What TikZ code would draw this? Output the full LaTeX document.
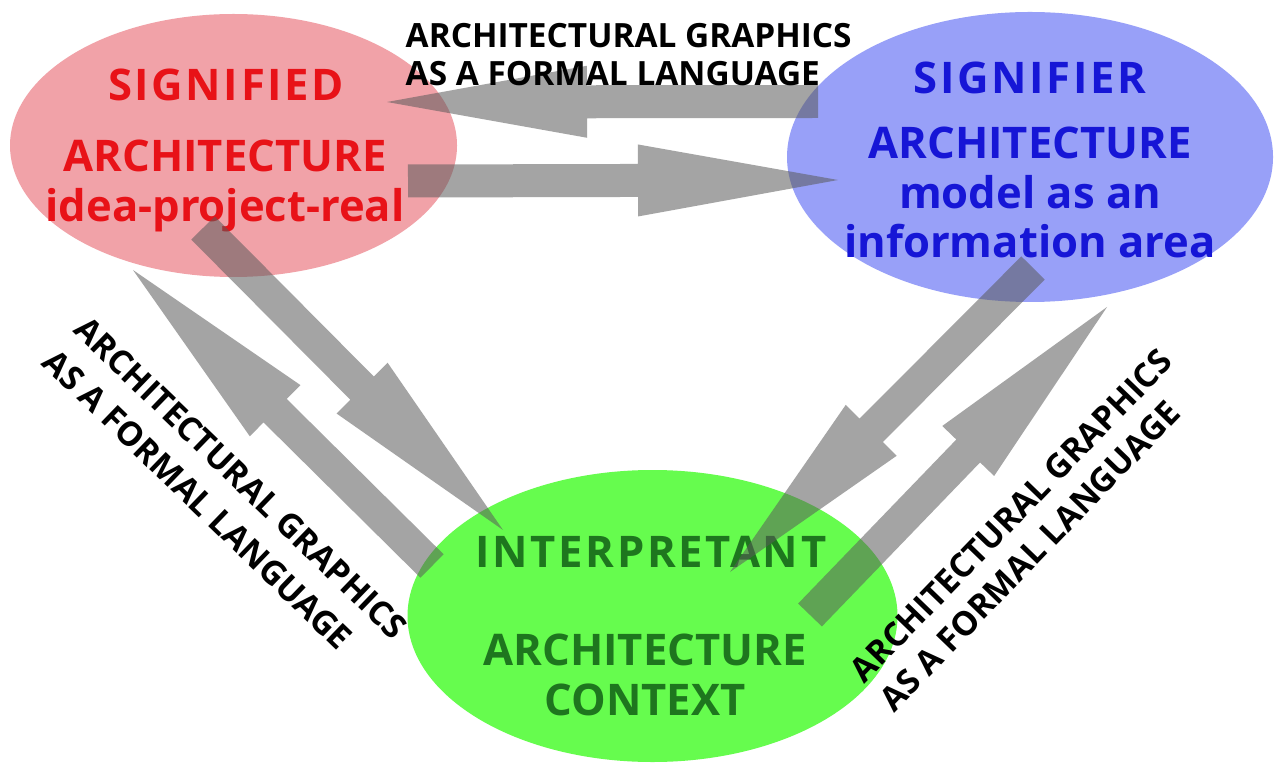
\documentclass[tikz,border=0pt]{standalone}
\usepackage{fontspec}
\setmainfont{Open Sans}
\usepackage{tikz}
\usetikzlibrary{calc,shapes.geometric}
\definecolor{sigred}{RGB}{232,18,24}
\definecolor{sigredfill}{RGB}{241,162,168}
\definecolor{sigblue}{RGB}{22,22,214}
\definecolor{sigbluefill}{RGB}{152,160,248}
\definecolor{intgreen}{RGB}{30,118,30}
\definecolor{intgreenfill}{RGB}{102,252,78}
\definecolor{arrowgray}{RGB}{90,90,90}

\tikzset{
  bubble/.style={ellipse, inner sep=0pt},
  bigtext/.style={font=\fontsize{12.4}{14}\selectfont\bfseries, align=center, inner sep=0pt},
  titletext/.style={bigtext, font=\fontsize{12.4}{14}\selectfont\bfseries\addfontfeature{LetterSpace=6}},
  smalltext/.style={font=\fontsize{9.5}{11}\selectfont\bfseries, align=left, inner sep=0pt},
  fatarrow/.style={fill=arrowgray, fill opacity=0.55},
}

% wide gray arrow from #1 to #2: shaft 3.3mm, head 7.2mm wide and 2cm long
\newcommand{\blockarrow}[2]{%
  \coordinate (hb) at ($(#2)!2cm!(#1)$);
  \fill[fatarrow] ($(#1)!1.65mm!90:(#2)$) -- ($(hb)!1.65mm!90:(#2)$) -- ($(hb)!3.6mm!90:(#2)$) -- (#2)
    -- ($(hb)!3.6mm!-90:(#2)$) -- ($(hb)!1.65mm!-90:(#2)$) -- ($(#1)!1.65mm!-90:(#2)$) -- cycle;
}

\begin{document}
\begin{tikzpicture}
  \useasboundingbox (0,0) rectangle (12.77,7.62);
  \fill[white] (0,0) rectangle (12.77,7.62);

  %--- bubbles ---
  \node[bubble, fill=sigredfill, minimum width=4.47cm, minimum height=2.63cm] (signified) at (2.335,6.165) {};
  \node[bubble, fill=sigbluefill, minimum width=4.86cm, minimum height=2.90cm] (signifier) at (10.30,6.05) {};
  \node[bubble, fill=intgreenfill, minimum width=4.90cm, minimum height=2.92cm] (interpretant) at (6.525,1.46) {};

  %--- bubble texts ---
  \node[titletext, text=sigred] (sigdtitle) at (2.26,6.77) {SIGNIFIED};
  \node[bigtext, text=sigred] (sigdbody) at (2.25,5.76) {ARCHITECTURE\\idea-project-real};
  \node[titletext, text=sigblue] (sigrtitle) at (10.30,6.84) {SIGNIFIER};
  \node[bigtext, text=sigblue] (sigrbody) at (10.30,5.695) {ARCHITECTURE\\model as an\\information area};
  \node[titletext, text=intgreen] (inttitle) at (6.51,2.10) {INTERPRETANT};
  \node[bigtext, text=intgreen] (intbody) at (6.45,0.87) {ARCHITECTURE\\CONTEXT};

  %--- arrow ends ---
  \coordinate (br-tail) at (8.18,6.605);
  \coordinate (br-tip) at (3.87,6.60);
  \coordinate (rb-tail) at (4.08,5.81);
  \coordinate (rb-tip) at (8.38,5.82);
  \coordinate (rg-tail) at (2.03,5.34);
  \coordinate (rg-tip) at (5.03,2.32);
  \coordinate (gr-tail) at (4.32,1.96);
  \coordinate (gr-tip) at (1.33,4.92);
  \coordinate (bg-tail) at (10.33,4.94);
  \coordinate (bg-tip) at (7.30,1.90);
  \coordinate (gb-tail) at (8.10,1.47);
  \coordinate (gb-tip) at (11.07,4.55);

  \blockarrow{br-tail}{br-tip}
  \blockarrow{rb-tail}{rb-tip}
  \blockarrow{rg-tail}{rg-tip}
  \blockarrow{gr-tail}{gr-tip}
  \blockarrow{bg-tail}{bg-tip}
  \blockarrow{gb-tail}{gb-tip}

  %--- arrow labels ---
  \node[smalltext, anchor=west] (toplabel) at (4.05,7.075) {ARCHITECTURAL GRAPHICS\\AS A FORMAL LANGUAGE};
  \node[smalltext, rotate=-44, font=\fontsize{9.5}{13}\selectfont\bfseries] (leftlabel) at (2.25,2.68) {ARCHITECTURAL GRAPHICS\\AS A FORMAL LANGUAGE};
  \node[smalltext, rotate=46, font=\fontsize{9.5}{11.8}\selectfont\bfseries] (rightlabel) at (10.26,2.32) {ARCHITECTURAL GRAPHICS\\AS A FORMAL LANGUAGE};
\end{tikzpicture}
\end{document}
